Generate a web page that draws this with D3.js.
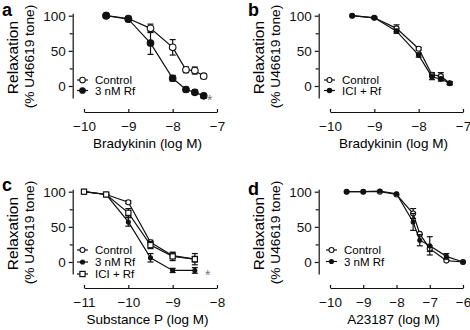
<!DOCTYPE html>
<html>
<head>
<meta charset="utf-8">
<script src="https://cdn.jsdelivr.net/npm/d3@7"></script>
<style>
  body { margin: 0; background: #fff; }
  svg { display: block; font-family: "Liberation Sans", Arial, sans-serif; }
  .axis path, .axis line { stroke: #111; stroke-width: 1.2; }
  .axis text { font-size: 13.5px; fill: #111; }
</style>
</head>
<body>
<svg id="chart" width="470" height="330"></svg>
<script>
// panel a - bradykinin
let doseA = [-9.5, -9, -8.5, -8, -7.7, -7.5, -7.3];
let ctrlA = [100, 96, 82, 55, 23, 22, 14];
let ctrlAErr = [0, 1, 6, 11, 4, 5, 3];
let rfA = [100, 95, 61, 11, -5, -9, -14];
let rfAErr = [0, 1, 16, 4, 3, 3, 3];

// panel b - bradykinin, ICI
let doseB = [-9.5, -9, -8.5, -8, -7.7, -7.5, -7.3];
let ctrlB = [100, 97, 82, 53, 16, 14, 4];
let ctrlBErr = [0, 1, 5, 2, 3, 5, 2];
let iciB = [100, 97, 78, 44, 13, 10, 4];
let iciBErr = [0, 1, 3, 3, 4, 3, 2];

// panel c - substance P
let doseC = [-11, -10.5, -10, -9.5, -9, -8.5];
let ctrlC = [100, 96, 85, 28, 9, 4];
let ctrlCErr = [0, 1, 2, 3, 4, 4];
let rfC = [100, 96, 57, 6, -12, -12];
let rfCErr = [0, 1, 6, 6, 3, 4];
let iciC = [100, 96, 70, 24, 8, 4];
let iciCErr = [0, 1, 6, 5, 6, 8];

// panel d - A23187
let doseD = [-9.5, -9, -8.5, -8, -7.5, -7.3, -7, -6.5, -6];
let ctrlD = [100, 100, 100, 96, 69, 40, 19, 2, 0];
let ctrlDErr = [0, 0, 0, 0, 7, 0, 4, 0, 0];
let rfD = [100, 100, 101, 97, 57, 31, 23, 8, 0];
let rfDErr = [0, 0, 0, 0, 12, 8, 13, 4, 0];

let yTicks = [0, 50, 100];
let yMinor = [25, 75];

let svg = d3.select("#chart");

function drawPanel(p) {
    let g = svg.append("g")
        .attr("transform", "translate(" + p.ox + "," + p.oy + ")");

    let x = d3.scaleLinear().domain(p.xDomain).range([84, 217]);
    let y = d3.scaleLinear().domain([0, 100]).range([86, 15.7]);
    // same mapping, but with the axis line running a little past the data
    let yLine = y.copy().domain([-17, 103.5]).range([y(-17), y(103.5)]);

    g.append("g")
        .attr("class", "axis")
        .attr("transform", "translate(72.7,0)")
        .call(d3.axisLeft(yLine).tickValues(yTicks).tickSizeInner(4).tickSizeOuter(0).tickPadding(3));
    g.append("g")
        .attr("class", "axis")
        .attr("transform", "translate(72.7,0)")
        .call(d3.axisLeft(yLine).tickValues(yMinor).tickSizeInner(3).tickSizeOuter(0).tickFormat(""))
        .select(".domain").remove();

    g.append("g")
        .attr("class", "axis")
        .attr("transform", "translate(0,112)")
        .call(d3.axisBottom(x).tickValues(d3.range(p.xDomain[0], p.xDomain[1] + 1))
            .tickFormat(d3.format("d")).tickSizeInner(-3).tickSizeOuter(0).tickPadding(9));

    g.append("text")
        .attr("x", (x.range()[0] + x.range()[1]) / 2 - 3)
        .attr("y", 148)
        .attr("text-anchor", "middle")
        .style("font-size", "13.5px")
        .text(p.xTitle);

    g.append("text")
        .attr("transform", "translate(17.5,57.5) rotate(-90)")
        .attr("text-anchor", "middle")
        .style("font-size", "15.5px")
        .text("Relaxation");
    g.append("text")
        .attr("transform", "translate(34,56.5) rotate(-90)")
        .attr("text-anchor", "middle")
        .style("font-size", "13.7px")
        .text("(% U46619 tone)");

    g.append("text")
        .attr("x", 2)
        .attr("y", p.letterY)
        .style("font-size", "18px")
        .style("font-weight", "bold")
        .text(p.letter);

    let line = d3.line()
        .x(function (d) { return x(d.dose); })
        .y(function (d) { return y(d.value); });

    p.series.forEach(function (s) {
        let data = s.dose.map(function (d, i) {
            return {dose: d, value: s.values[i], err: s.err[i]};
        });
        g.append("path")
            .datum(data)
            .attr("d", line)
            .attr("fill", "none")
            .attr("stroke", "#111")
            .attr("stroke-width", 1.2);

        let eb = g.selectAll(null)
            .data(data.filter(function (d) { return d.err > 0; }))
            .enter().append("g")
            .attr("stroke", "#111")
            .attr("stroke-width", 1.2);
        eb.append("line")
            .attr("x1", function (d) { return x(d.dose); })
            .attr("x2", function (d) { return x(d.dose); })
            .attr("y1", function (d) { return y(d.value - d.err); })
            .attr("y2", function (d) { return y(d.value + d.err); });
        [-1, 1].forEach(function (sgn) {
            eb.append("line")
                .attr("x1", function (d) { return x(d.dose) - 3; })
                .attr("x2", function (d) { return x(d.dose) + 3; })
                .attr("y1", function (d) { return y(d.value + sgn * d.err); })
                .attr("y2", function (d) { return y(d.value + sgn * d.err); });
        });

        data.forEach(function (d) {
            drawMarker(g, s.marker, s.size, x(d.dose), y(d.value));
        });
    });

    // legend
    p.series.forEach(function (s, i) {
        let ly = p.legendY + i * p.legendStep;
        g.append("line")
            .attr("x1", p.legendX).attr("x2", p.legendX + 11)
            .attr("y1", ly).attr("y2", ly)
            .attr("stroke", "#111").attr("stroke-width", 1.2);
        drawMarker(g, s.marker, Math.min(s.size, 2.8), p.legendX + 5.5, ly);
        g.append("text")
            .attr("x", p.legendX + 18)
            .attr("y", ly + 4)
            .style("font-size", "11.5px")
            .text(s.name);
    });

    if (p.star) {
        g.append("text")
            .attr("x", p.star[0])
            .attr("y", p.star[1])
            .style("font-size", "14px")
            .attr("fill", "#777")
            .text("*");
    }
}

function drawMarker(g, type, r, cx, cy) {
    if (type === "square") {
        g.append("rect")
            .attr("x", cx - r).attr("y", cy - r)
            .attr("width", 2 * r).attr("height", 2 * r)
            .attr("fill", "#fff").attr("stroke", "#111").attr("stroke-width", 1.2);
    } else {
        g.append("circle")
            .attr("cx", cx).attr("cy", cy).attr("r", r)
            .attr("fill", type === "open" ? "#fff" : "#111")
            .attr("stroke", "#111").attr("stroke-width", 1.1);
    }
}

drawPanel({
    letter: "a", letterY: 16, ox: 0, oy: 0, xDomain: [-10, -7], xTitle: "Bradykinin (log M)",
    legendX: 77, legendY: 80, legendStep: 10.5, star: [207, 105],
    series: [
        {name: "Control", dose: doseA, values: ctrlA, err: ctrlAErr, marker: "open", size: 3.3},
        {name: "3 nM Rf", dose: doseA, values: rfA, err: rfAErr, marker: "filled", size: 3.3}
    ]
});
drawPanel({
    letter: "b", letterY: 16, ox: 246, oy: 0, xDomain: [-10, -7], xTitle: "Bradykinin (log M)",
    legendX: 78, legendY: 80, legendStep: 10.5,
    series: [
        {name: "Control", dose: doseB, values: ctrlB, err: ctrlBErr, marker: "open", size: 2.5},
        {name: "ICI + Rf", dose: doseB, values: iciB, err: iciBErr, marker: "filled", size: 2.2}
    ]
});
drawPanel({
    letter: "c", letterY: 15, ox: 0, oy: 176, xDomain: [-11, -8], xTitle: "Substance P (log M)",
    legendX: 77, legendY: 74, legendStep: 12, star: [205, 104],
    series: [
        {name: "Control", dose: doseC, values: ctrlC, err: ctrlCErr, marker: "open", size: 2.5},
        {name: "3 nM Rf", dose: doseC, values: rfC, err: rfCErr, marker: "filled", size: 2},
        {name: "ICI + Rf", dose: doseC, values: iciC, err: iciCErr, marker: "square", size: 2.6}
    ]
});
drawPanel({
    letter: "d", letterY: 19, ox: 246, oy: 176, xDomain: [-10, -6], xTitle: "A23187 (log M)",
    legendX: 80, legendY: 74, legendStep: 11.5,
    series: [
        {name: "Control", dose: doseD, values: ctrlD, err: ctrlDErr, marker: "open", size: 2.5},
        {name: "3 nM Rf", dose: doseD, values: rfD, err: rfDErr, marker: "filled", size: 2}
    ]
});
</script>
</body>
</html>
